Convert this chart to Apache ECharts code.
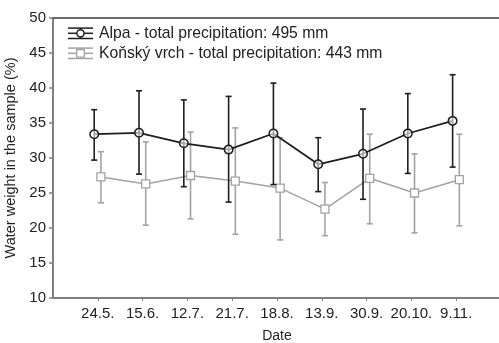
<!DOCTYPE html>
<html>
<head>
<meta charset="utf-8">
<script src="https://cdn.jsdelivr.net/npm/echarts@6/dist/echarts.min.js"></script>
<style>
  html, body { margin: 0; padding: 0; background: #fff; }
  #chart { width: 499px; height: 343px; }
</style>
</head>
<body>
<div id="chart"></div>
<script>
// Sampling dates
const dates = ['24.5.', '15.6.', '12.7.', '21.7.', '18.8.', '13.9.', '30.9.', '20.10.', '9.11.'];

// Alpa: mean water weight (%) with lower / upper whisker ends
const alpaMean = [33.4, 33.6, 32.1, 31.2, 33.5, 29.1, 30.6, 33.5, 35.3];
const alpaLow  = [29.7, 27.7, 25.9, 23.7, 26.2, 25.2, 24.1, 27.8, 28.7];
const alpaHigh = [36.9, 39.6, 38.3, 38.8, 40.7, 32.9, 37.0, 39.2, 41.9];

// Koňský vrch: mean water weight (%) with lower / upper whisker ends
const konMean = [27.3, 26.3, 27.5, 26.7, 25.7, 22.7, 27.1, 25.0, 26.9];
const konLow  = [23.6, 20.4, 21.3, 19.1, 18.3, 18.9, 20.6, 19.3, 20.3];
const konHigh = [30.9, 32.3, 33.7, 34.3, 32.9, 26.5, 33.4, 30.6, 33.4];

const seriesNames = ['Alpa - total precipitation: 495 mm', 'Koňský vrch - total precipitation: 443 mm'];
const yTicks = [10, 15, 20, 25, 30, 35, 40, 45, 50];

const FONT = 'Liberation Sans, Arial, sans-serif';
const BLACK = '#1e1e1e';
const GREY = '#a3a3a3';

// the two sites are drawn slightly apart around each date
const shiftA = -0.08, shiftK = 0.07;
const pos = (i, s) => i + 1 + s;

const meanPts = (arr, s) => arr.map((v, i) => [pos(i, s), v]);
const barPts = (lo, hi, s) => lo.map((v, i) => [pos(i, s), v, hi[i]]);

function errorBar(color) {
  return function (params, api) {
    const x = api.value(0);
    const lo = api.coord([x, api.value(1)]);
    const hi = api.coord([x, api.value(2)]);
    const cap = 3;
    const style = { stroke: color, lineWidth: 1.6, fill: null };
    return {
      type: 'group',
      children: [
        { type: 'line', shape: { x1: lo[0], y1: lo[1], x2: hi[0], y2: hi[1] }, style },
        { type: 'line', shape: { x1: hi[0] - cap, y1: hi[1], x2: hi[0] + cap, y2: hi[1] }, style },
        { type: 'line', shape: { x1: lo[0] - cap, y1: lo[1], x2: lo[0] + cap, y2: lo[1] }, style }
      ]
    };
  };
}

// legend glyph: whisker with caps, connecting line and marker
function legendGlyph(cy, color, marker) {
  const x1 = 68, x2 = 93, cx = 80.5, h = 5.2;
  const st = { stroke: color, lineWidth: 1.5, fill: null };
  const els = [
    { type: 'line', shape: { x1, y1: cy - h, x2, y2: cy - h }, style: st },
    { type: 'line', shape: { x1, y1: cy, x2, y2: cy }, style: st },
    { type: 'line', shape: { x1, y1: cy + h, x2, y2: cy + h }, style: st },
    { type: 'line', shape: { x1: cx, y1: cy - h, x2: cx, y2: cy + h }, style: st }
  ];
  if (marker === 'circle') {
    els.push({ type: 'circle', shape: { cx, cy, r: 3.6 }, style: { stroke: color, lineWidth: 1.5, fill: '#fff' } });
  } else {
    els.push({ type: 'rect', shape: { x: cx - 3.8, y: cy - 3.8, width: 7.6, height: 7.6 }, style: { stroke: color, lineWidth: 1.3, fill: '#fff' } });
  }
  return els;
}

const chart = echarts.init(document.getElementById('chart'), null, { renderer: 'canvas' });

chart.setOption({
  backgroundColor: '#fff',
  animation: false,
  textStyle: { fontFamily: FONT },
  grid: { left: 53, top: 18, width: 448, height: 280, outerBoundsMode: 'none', containLabel: false },
  xAxis: [{
    type: 'value',
    min: 0, max: 10, interval: 1,
    name: 'Date',
    nameLocation: 'middle',
    nameGap: 31,
    nameTextStyle: { fontSize: 14, color: '#222', fontFamily: FONT },
    axisLine: { lineStyle: { color: '#808080', width: 2 } },
    axisTick: { show: true, length: 3, lineStyle: { color: '#808080', width: 1 },
      customValues: dates.map((d, i) => i + 1) },
    axisLabel: { fontSize: 15, color: '#222', margin: 8, fontFamily: FONT,
      customValues: dates.map((d, i) => i + 1),
      formatter: v => dates[Math.round(v) - 1] || '' },
    splitLine: { show: false }
  }, {
    type: 'value', position: 'top',
    min: 0, max: 10,
    axisLine: { show: true, onZero: false, lineStyle: { color: '#3a3a3a', width: 1.5 } },
    axisTick: { show: false }, axisLabel: { show: false }, splitLine: { show: false }
  }],
  yAxis: {
    type: 'value',
    min: 10, max: 50, interval: 5,
    name: 'Water weight in the sample (%)',
    nameLocation: 'middle',
    nameRotate: 90,
    nameGap: 32,
    nameTextStyle: { fontSize: 14.5, color: '#222', fontFamily: FONT },
    axisLine: { show: true, lineStyle: { color: '#808080', width: 2 } },
    axisTick: { show: true, length: 4, lineStyle: { color: '#808080', width: 1.5 } },
    axisLabel: { fontSize: 15, color: '#222', margin: 7, fontFamily: FONT,
      formatter: v => (yTicks.indexOf(v) >= 0 ? String(v) : '') },
    splitLine: { show: false }
  },
  series: [
    {
      type: 'custom', name: seriesNames[1] + ' bars',
      renderItem: errorBar(GREY),
      data: barPts(konLow, konHigh, shiftK),
      encode: { x: 0, y: [1, 2] }, z: 2
    },
    {
      type: 'line', name: seriesNames[1],
      data: meanPts(konMean, shiftK),
      symbol: 'rect', symbolSize: 8,
      lineStyle: { color: GREY, width: 1.5 },
      itemStyle: { color: '#fff', borderColor: GREY, borderWidth: 1.3 },
      z: 3
    },
    {
      type: 'custom', name: seriesNames[0] + ' bars',
      renderItem: errorBar(BLACK),
      data: barPts(alpaLow, alpaHigh, shiftA),
      encode: { x: 0, y: [1, 2] }, z: 4
    },
    {
      type: 'line', name: seriesNames[0],
      data: meanPts(alpaMean, shiftA),
      symbol: 'circle', symbolSize: 8.5,
      lineStyle: { color: BLACK, width: 1.7 },
      itemStyle: { color: 'rgba(255,255,255,0.6)', borderColor: BLACK, borderWidth: 1.5 },
      z: 5
    }
  ],
  graphic: [
    ...legendGlyph(33.3, BLACK, 'circle'),
    ...legendGlyph(53.3, GREY, 'rect'),
    { type: 'text', x: 99, y: 33.3, style: { text: seriesNames[0], font: '15.7px ' + FONT, fill: '#222', verticalAlign: 'middle' } },
    { type: 'text', x: 99, y: 53.3, style: { text: seriesNames[1], font: '15.7px ' + FONT, fill: '#222', verticalAlign: 'middle' } }
  ]
});
</script>
</body>
</html>
